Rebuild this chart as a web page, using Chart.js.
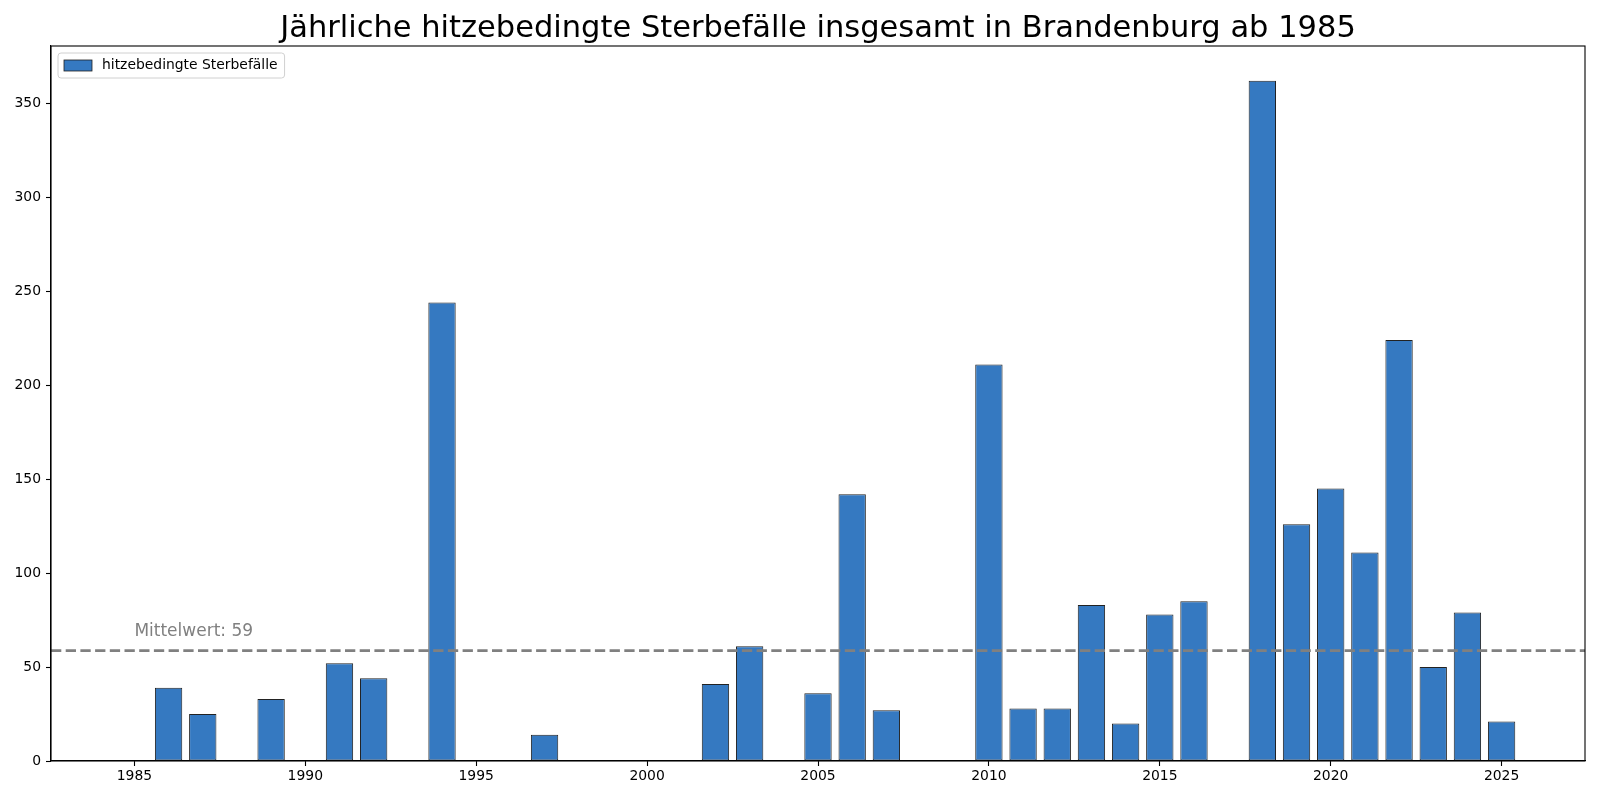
<!DOCTYPE html>
<html><head><meta charset="utf-8">
<script src="https://cdn.jsdelivr.net/npm/chart.js@4.4.1/dist/chart.umd.min.js"></script>
<style>html,body{margin:0;padding:0;background:#fff;}canvas{display:block;}</style>
</head><body>
<canvas id="c" width="1600" height="800"></canvas>
<script>
const titleText = 'Jährliche hitzebedingte Sterbefälle insgesamt in Brandenburg ab 1985';
const seriesLabel = 'hitzebedingte Sterbefälle';
const years = [1985,1986,1987,1988,1989,1990,1991,1992,1993,1994,1995,1996,1997,1998,1999,2000,2001,2002,2003,2004,2005,2006,2007,2008,2009,2010,2011,2012,2013,2014,2015,2016,2017,2018,2019,2020,2021,2022,2023,2024,2025];
const deaths = [0,39,25,0,33,0,52,44,0,244,0,0,14,0,0,0,0,41,61,0,36,142,27,0,0,211,28,28,83,20,78,85,0,362,126,145,111,224,50,79,21];
const xTicks = [1985,1990,1995,2000,2005,2010,2015,2020,2025];
const yTicks = [0,50,100,150,200,250,300,350];

const meanVal = deaths.reduce((a,b)=>a+b,0)/deaths.length;
const meanLabel = 'Mittelwert: ' + Math.round(meanVal);

const FONT = "'DejaVu Sans', sans-serif";
const barColor = '#3579c1';
const edgeColor = '#222222';

const extrasPlugin = {
  id: 'extras',
  afterDatasetsDraw(chart) {
    const ctx = chart.ctx, a = chart.chartArea;
    const xs = chart.scales.x, ys = chart.scales.y;
    const yPix = ys.getPixelForValue(meanVal);
    ctx.save();
    ctx.beginPath();
    ctx.rect(a.left, a.top, a.right - a.left, a.bottom - a.top);
    ctx.clip();
    ctx.strokeStyle = '#808080';
    ctx.lineWidth = 2.8;
    ctx.setLineDash([10.3, 4.4]);
    ctx.beginPath();
    ctx.moveTo(a.left, yPix);
    ctx.lineTo(a.right, yPix);
    ctx.stroke();
    ctx.restore();
    ctx.save();
    ctx.fillStyle = '#808080';
    ctx.font = "17px " + FONT;
    ctx.textAlign = 'left';
    ctx.textBaseline = 'alphabetic';
    ctx.fillText(meanLabel, xs.getPixelForValue(years[0]), ys.getPixelForValue(meanVal + 8));
    ctx.restore();
    ctx.save();
    ctx.strokeStyle = '#000';
    ctx.lineWidth = 1.1;
    ctx.strokeRect(a.left, a.top, a.right - a.left, a.bottom - a.top);
    ctx.restore();
    ctx.save();
    ctx.font = "13.9px " + FONT;
    const tw = ctx.measureText(seriesLabel).width;
    const bx = a.left + 7, by = a.top + 7, bw = 6 + 28 + 10 + tw + 7, bh = 25;
    ctx.beginPath();
    if (ctx.roundRect) ctx.roundRect(bx, by, bw, bh, 3); else ctx.rect(bx, by, bw, bh);
    ctx.fillStyle = 'rgba(255,255,255,0.8)';
    ctx.fill();
    ctx.strokeStyle = '#d0d0d0';
    ctx.lineWidth = 1;
    ctx.stroke();
    ctx.fillStyle = barColor;
    ctx.fillRect(bx + 6, by + 7, 28, 11);
    ctx.strokeStyle = edgeColor;
    ctx.lineWidth = 0.8;
    ctx.strokeRect(bx + 6, by + 7, 28, 11);
    ctx.fillStyle = '#000';
    ctx.textBaseline = 'middle';
    ctx.fillText(seriesLabel, bx + 44, by + bh/2);
    ctx.restore();
  }
};

new Chart(document.getElementById('c'), {
  type: 'bar',
  data: {
    datasets: [{
      label: seriesLabel,
      data: years.map((y, i) => ({x: y, y: deaths[i]})),
      backgroundColor: barColor,
      borderColor: edgeColor,
      borderWidth: 1,
      borderSkipped: false,
      barPercentage: 0.8,
      categoryPercentage: 1.0
    }]
  },
  options: {
    responsive: false,
    animation: false,
    devicePixelRatio: 1,
    layout: { padding: { left: 0, right: 15, top: 0, bottom: 0 } },
    plugins: {
      legend: { display: false },
      tooltip: { enabled: false },
      title: {
        display: true,
        text: titleText,
        fullSize: false,
        color: '#000',
        font: { family: FONT, size: 30.5, weight: 'normal', lineHeight: 1.0 },
        padding: { top: 13.5, bottom: 2 }
      }
    },
    scales: {
      x: {
        type: 'linear',
        min: 1982.56,
        max: 2027.44,
        offset: false,
        afterFit(s) { s.height = 39; },
        afterBuildTicks(s) { s.ticks = xTicks.map(v => ({value: v})); },
        ticks: { color: '#000', font: { family: FONT, size: 13.9 }, padding: 2, maxRotation: 0, autoSkip: false,
                 callback: (v) => String(v) },
        grid: { offset: false, drawOnChartArea: false, drawTicks: true, tickLength: 5, tickColor: '#000', tickWidth: 1.1 },
        border: { display: true, color: '#000', width: 1.1 }
      },
      y: {
        min: 0,
        max: 380.5,
        afterFit(s) { s.width = 51; },
        afterBuildTicks(s) { s.ticks = yTicks.map(v => ({value: v})); },
        ticks: { color: '#000', font: { family: FONT, size: 13.9 }, padding: 5, callback: (v) => String(v) },
        grid: { offset: false, drawOnChartArea: false, drawTicks: true, tickLength: 5, tickColor: '#000', tickWidth: 1.1 },
        border: { display: true, color: '#000', width: 1.1 }
      }
    }
  },
  plugins: [extrasPlugin]
});
</script>
</body></html>
